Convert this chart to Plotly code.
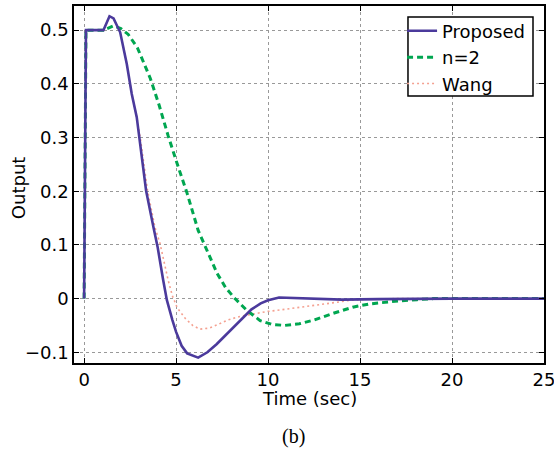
import plotly.graph_objects as go

# Proposed
t_prop = [0, 0.1, 1.05, 1.38, 1.6, 1.96, 2.32, 2.59, 2.86, 3.0, 3.37, 3.77, 4.0, 4.3, 4.5, 4.8, 5.0, 5.3, 5.6, 6.2,
          6.7, 7.2, 7.7, 8.1, 8.5, 9.1, 9.6, 10.0, 10.6, 11.5, 12.5, 14, 16, 18, 20, 25]
y_prop = [0, 0.5, 0.5, 0.526, 0.522, 0.496, 0.437, 0.381, 0.338, 0.3, 0.201, 0.133, 0.095, 0.034, -0.003, -0.04,
          -0.062, -0.088, -0.102, -0.11, -0.1, -0.085, -0.068, -0.054, -0.04, -0.02, -0.009, -0.003, 0.002, 0.001,
          -0.001, -0.002, -0.001, 0, 0, 0]

# n=2
t_n2 = [0, 0.1, 1.05, 1.6, 2.0, 2.4, 2.9, 3.6, 4.08, 4.57, 5.06, 5.6, 6.2, 6.68, 7.23, 7.7, 8.2, 8.85, 9.57, 10.2,
        10.9, 11.7, 12.5, 13.5, 14.6, 15.5, 16.3, 17.2, 18.1, 19, 20, 25]
y_n2 = [0, 0.5, 0.5, 0.508, 0.503, 0.492, 0.467, 0.41, 0.36, 0.303, 0.251, 0.196, 0.127, 0.089, 0.047, 0.02, 0.0,
        -0.022, -0.041, -0.048, -0.05, -0.047, -0.04, -0.028, -0.016, -0.01, -0.007, -0.004, -0.002, 0, 0, 0]

# Wang
t_wang = [0, 0.1, 1.05, 1.38, 1.6, 1.96, 2.32, 2.59, 2.86, 3.05, 3.45, 3.85, 4.13, 4.57, 4.8, 5.06, 5.5, 5.9, 6.3,
          6.8, 7.3, 7.8, 8.5, 9.2, 9.95, 10.7, 11.4, 12.5, 13.5, 14.5, 15.5, 17, 20, 25]
y_wang = [0, 0.5, 0.5, 0.526, 0.522, 0.496, 0.437, 0.381, 0.338, 0.3, 0.201, 0.133, 0.102, 0.034, 0.005, -0.017,
          -0.037, -0.05, -0.057, -0.055, -0.048, -0.04, -0.033, -0.028, -0.024, -0.021, -0.018, -0.012, -0.008,
          -0.003, -0.001, 0, 0, 0]

x_ticks = [0, 5, 10, 15, 20, 25]
y_ticks = [-0.1, 0, 0.1, 0.2, 0.3, 0.4, 0.5]

fig = go.Figure()
fig.add_trace(go.Scatter(x=t_wang, y=y_wang, name="Wang", mode="lines",
                         line=dict(color="#F4A090", width=1.6, dash="2px,3px")))
fig.add_trace(go.Scatter(x=t_n2, y=y_n2, name="n=2", mode="lines",
                         line=dict(color="#00A650", width=3, dash="6px,4px")))
fig.add_trace(go.Scatter(x=t_prop, y=y_prop, name="Proposed", mode="lines",
                         line=dict(color="#4B3A9C", width=2.6)))

axis_common = dict(
    showline=True, linecolor="black", linewidth=1.5, mirror="ticks",
    ticks="inside", ticklen=5, tickcolor="black", tickwidth=1,
    showgrid=True, gridcolor="#999999", griddash="dot", gridwidth=1,
    zeroline=False, automargin=False, ticklabeloverflow="allow",
    tickfont=dict(family="DejaVu Sans", size=18, color="black"),
)

fig.update_layout(
    width=554, height=456,
    margin=dict(l=74, r=10, t=6, b=93),
    paper_bgcolor="white", plot_bgcolor="white",
    font=dict(family="DejaVu Sans", size=18, color="black"),
    showlegend=True,
    legend=dict(x=0.698, y=0.9816, xanchor="left", yanchor="top",
                bgcolor="rgba(0,0,0,0)", borderwidth=0,
                font=dict(family="DejaVu Sans", size=18), traceorder="reversed",
                tracegroupgap=0, itemwidth=30),
    xaxis=dict(range=[-0.55, 25.001], tickvals=x_ticks, **axis_common),
    yaxis=dict(range=[-0.12, 0.545], tickvals=y_ticks, **axis_common),
    shapes=[dict(type="rect", xref="paper", yref="paper", x0=0.7106, x1=0.9766, y0=0.748, y1=0.969,
                 fillcolor="white", line=dict(color="black", width=1.5), layer="above")],
    annotations=[
        dict(text="Time (sec)", xref="paper", yref="paper", x=0.502, y=-0.1,
             xanchor="center", yanchor="middle", showarrow=False,
             font=dict(family="DejaVu Sans", size=18, color="black")),
        dict(text="Output", xref="paper", yref="paper", x=-0.119, y=0.49, textangle=-90,
             xanchor="center", yanchor="middle", showarrow=False,
             font=dict(family="DejaVu Sans", size=18, color="black")),
        dict(text="(b)", xref="paper", yref="paper", x=0.466, y=-0.207,
             xanchor="center", yanchor="middle", showarrow=False,
             font=dict(family="Liberation Serif", size=20, color="black")),
    ],
)

fig.write_html("out.html", config={"displayModeBar": False},
               post_script="document.body.style.margin='0px';")
